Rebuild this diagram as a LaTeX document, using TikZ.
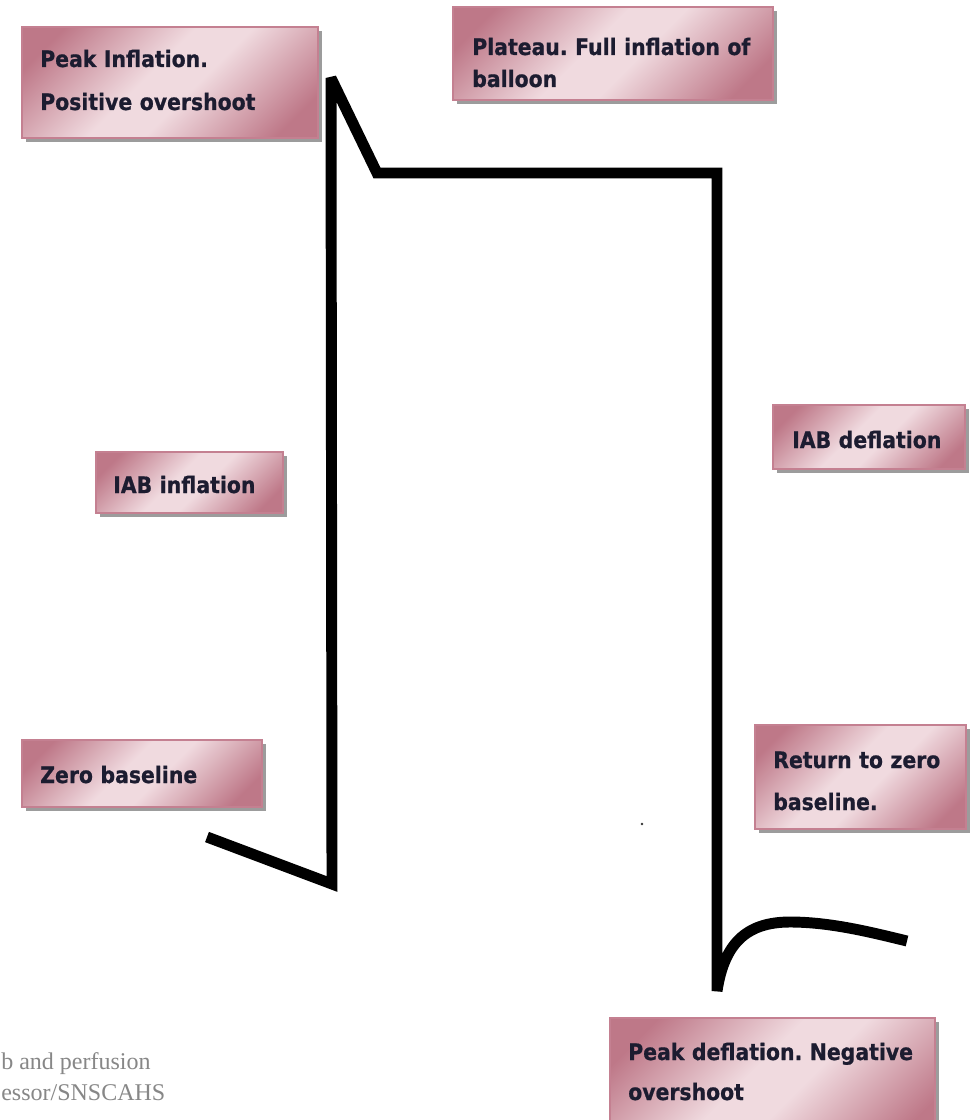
\documentclass[tikz,border=0pt]{standalone}
\usepackage{fontspec}
\newfontfamily\boxfont[FakeStretch=0.9,FakeBold=0.8]{DejaVu Sans}
\newfontfamily\footfont{Liberation Serif}
\usetikzlibrary{shadows}
\definecolor{rose}{RGB}{190,120,136}
\definecolor{blush}{RGB}{240,218,223}
\definecolor{rim}{RGB}{196,128,145}
\definecolor{ink}{RGB}{28,28,48}
\definecolor{footgray}{RGB}{135,135,135}
\pgfdeclareverticalshading{pinkshade}{100bp}{color(0bp)=(rose); color(22bp)=(rose); color(45bp)=(blush); color(55bp)=(blush); color(78bp)=(rose); color(100bp)=(rose)}
\tikzset{
  pbox/.style 2 args={draw=rim, line width=0.9pt, inner sep=0pt, outer sep=0pt,
    anchor=north west, minimum width=#1*0.75pt, minimum height=#2*0.75pt,
    shading=pinkshade, shading angle=45,
    drop shadow={shadow xshift=3pt, shadow yshift=-3pt, fill=black!70, opacity=0.55}},
  txt/.style={font=\boxfont\bfseries\fontsize{17}{#1}\selectfont, text=ink,
    inner sep=0pt, anchor=base west, align=left, text width=9cm},
  foot/.style={font=\footfont\fontsize{18}{23}\selectfont, text=footgray,
    inner sep=0pt, anchor=base west},
  wave/.style={line width=8.2pt, line join=miter, miter limit=2, line cap=butt, draw=black}
}
\begin{document}
\frenchspacing
\begin{tikzpicture}[x=0.75pt,y=-0.75pt]
\useasboundingbox (0,0) rectangle (979,1120);
\fill[white] (0,0) rectangle (979,1120);
\clip (0,0) rectangle (979,1120);

% boxes
\node[pbox={296}{111}] (b1) at (22,27) {};
\node[pbox={320}{93}]  (b2) at (453,7) {};
\node[pbox={187}{61}]  (b3) at (96,452) {};
\node[pbox={192}{64}]  (b4) at (773,405) {};
\node[pbox={240}{67}]  (b5) at (22,740) {};
\node[pbox={211}{104}] (b6) at (755,725) {};
\node[pbox={325}{130}] (b7) at (610,1018) {};

% labels
\node[txt=32.25pt] (t1) at (40,67) {Peak Inflation.\\Positive overshoot};
\node[txt=24pt]    (t2) at (472,55) {Plateau. Full inflation of\\balloon};
\node[txt=30pt]    (t3) at (113,493) {IAB inflation};
\node[txt=30pt]    (t4) at (792,448) {IAB deflation};
\node[txt=30pt]    (t5) at (40,783) {Zero baseline};
\node[txt=31.5pt]  (t6) at (773,768) {Return to zero\\baseline.};
\node[txt=30pt]    (t7) at (628,1060) {Peak deflation. Negative\\overshoot};

% footer
\node[foot] (f1) at (1,1069) {b and perfusion};
\node[foot] (f2) at (1,1100) {essor/SNSCAHS};

% waveform
\coordinate (w0) at (207,837);
\coordinate (w1) at (332,884);
\coordinate (w2) at (331,78);
\coordinate (w3) at (377,173);
\coordinate (w4) at (717,173);
\coordinate (w5) at (717,991);
\coordinate (w6) at (790,922);
\coordinate (w7) at (907,941);
\draw[wave] (w0) -- (w1) -- (w2) -- (w3) -- (w4) -- (w5)
  .. controls (724,945) and (745,922) .. (w6)
  .. controls (830,922) and (870,932) .. (w7);

\fill[black!80] (642,824) circle (1.3);
\end{tikzpicture}
\end{document}
